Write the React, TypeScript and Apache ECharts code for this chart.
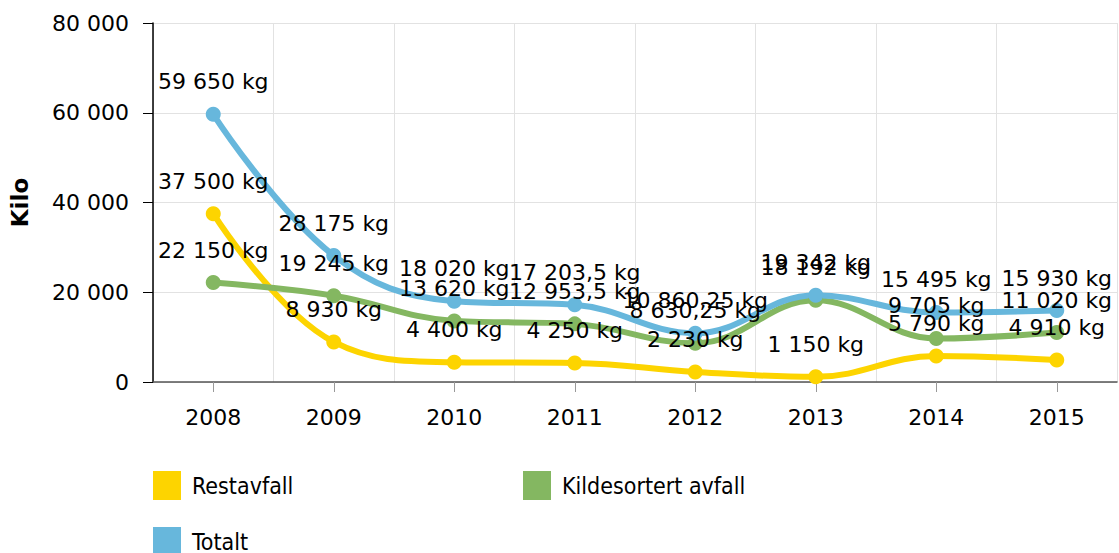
import React, { useEffect, useRef } from "react";
import * as echarts from "echarts";

const years = ["2008", "2009", "2010", "2011", "2012", "2013", "2014", "2015"];
const restavfall = [37500, 8930, 4400, 4250, 2230, 1150, 5790, 4910];
const kildesortert = [22150, 19245, 13620, 12953.5, 8630.25, 18192, 9705, 11020];
const totalt = [59650, 28175, 18020, 17203.5, 10860.25, 19342, 15495, 15930];
const seriesNames = ["Restavfall", "Kildesortert avfall", "Totalt"];
const colors = ["#fdd400", "#84b761", "#67b7dc"];

const fmt = (v: number) => {
  const [int, dec] = String(v).split(".");
  const s = int.replace(/\B(?=(\d{3})+(?!\d))/g, " ");
  return dec ? s + "," + dec : s;
};

const FONT = "DejaVu Sans, Verdana, sans-serif";
const LEGEND_FONT = "DejaVu Sans Condensed, Liberation Sans Narrow, DejaVu Sans, sans-serif";

export default function App() {
  const ref = useRef<HTMLDivElement>(null);
  useEffect(() => {
    if (!ref.current) return;
    const chart = echarts.init(ref.current, null, { renderer: "svg" });
    const mk = (name: string, data: number[], color: string) => ({
      name,
      type: "line",
      data,
      smooth: 0.4,
      symbol: "circle",
      symbolSize: 15,
      lineStyle: { width: 6, color },
      itemStyle: { color },
      label: {
        show: true,
        position: "top",
        distance: 14,
        color: "#000",
        fontFamily: FONT,
        fontSize: 22,
        formatter: (p: any) => fmt(p.value) + " kg",
      },
      emphasis: { disabled: true },
    });
    chart.setOption({
      animation: false,
      textStyle: { fontFamily: FONT },
      grid: { left: 153, right: 2, top: 23, bottom: 171, containLabel: false },
      legend: [
        { data: [seriesNames[0]], left: 153, top: 471 },
        { data: [seriesNames[1]], left: 523, top: 471 },
        { data: [seriesNames[2]], left: 153, top: 527 },
      ].map((l) => ({
        ...l,
        icon: "rect",
        itemWidth: 28,
        itemHeight: 29,
        itemGap: 0,
        padding: 0,
        textStyle: { fontSize: 23, color: "#000", fontFamily: LEGEND_FONT, padding: [0, 0, 0, 6] },
        selectedMode: false,
      })),
      xAxis: {
        type: "category",
        data: years,
        boundaryGap: true,
        axisLine: { lineStyle: { color: "#555", width: 1.5 } },
        axisTick: { show: true, alignWithLabel: true, length: 10, lineStyle: { color: "#999" } },
        axisLabel: { color: "#000", fontSize: 22, margin: 24, fontFamily: FONT },
        splitLine: { show: true, lineStyle: { color: "#e2e2e2" } },
      },
      yAxis: {
        type: "value",
        min: 0,
        max: 80000,
        interval: 20000,
        name: "Kilo",
        nameLocation: "middle",
        nameGap: 122,
        nameTextStyle: { fontSize: 23, fontWeight: "bold", color: "#000", fontFamily: FONT },
        axisLine: { show: true, lineStyle: { color: "#000", width: 1.5 } },
        axisTick: { show: true, length: 10, lineStyle: { color: "#000" } },
        axisLabel: { color: "#000", fontSize: 22, margin: 24, fontFamily: FONT, formatter: (v: number) => fmt(v) },
        splitLine: { show: true, lineStyle: { color: "#e2e2e2" } },
      },
      series: [
        mk(seriesNames[0], restavfall, colors[0]),
        mk(seriesNames[1], kildesortert, colors[1]),
        mk(seriesNames[2], totalt, colors[2]),
      ],
    });
    return () => chart.dispose();
  }, []);
  return <div ref={ref} style={{ width: 1119, height: 553, position: "absolute", left: 0, top: 0 }} />;
}
